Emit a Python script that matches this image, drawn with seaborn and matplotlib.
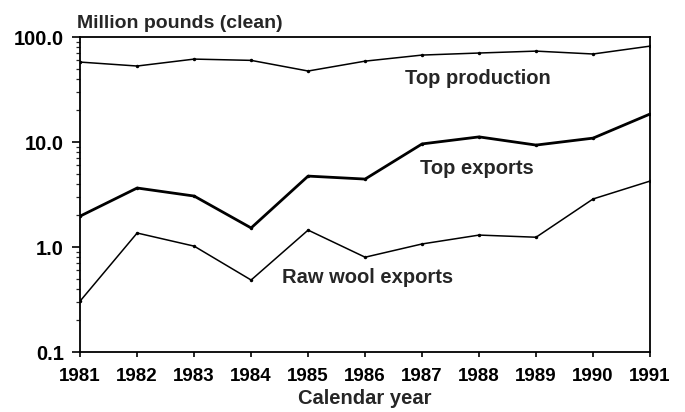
import pandas as pd
import numpy as np
import matplotlib
matplotlib.use("Agg")
import matplotlib.pyplot as plt
import matplotlib.ticker as mticker
import seaborn as sns

# Data
years = [1981, 1982, 1983, 1984, 1985, 1986, 1987, 1988, 1989, 1990, 1991]
top_production = [57.8, 53.0, 61.7, 60.0, 47.5, 59.0, 67.4, 70.5, 73.5, 69.0, 82.0]
top_exports = [1.97, 3.65, 3.06, 1.52, 4.74, 4.44, 9.6, 11.2, 9.36, 10.9, 18.5]
raw_wool_exports = [0.306, 1.36, 1.02, 0.485, 1.45, 0.80, 1.07, 1.30, 1.24, 2.87, 4.25]

sns.set_style("ticks")
plt.rcParams["font.family"] = ["Liberation Sans", "DejaVu Sans"]
plt.rcParams["font.weight"] = "bold"

fig = plt.figure(figsize=(6.85, 4.12), dpi=100)
ax = fig.add_axes([0.117, 0.1456, 0.832, 0.7644])

series = [
    (top_production, 1.1),
    (top_exports, 2.0),
    (raw_wool_exports, 1.1),
]
for vals, lw in series:
    sns.lineplot(x=years, y=vals, ax=ax, color="black", linewidth=lw,
                 marker="o", markersize=2.5, markeredgewidth=0)

ax.set_yscale("log")
ax.set_ylim(0.1, 100)
ax.set_xlim(1981, 1991)
ax.set_xticks(years)
ax.set_xticklabels([str(y) for y in years])
ax.yaxis.set_major_locator(mticker.FixedLocator([0.1, 1, 10, 100]))
ax.yaxis.set_major_formatter(mticker.FixedFormatter(["0.1", "1.0", "10.0", "100.0"]))
ax.yaxis.set_minor_locator(mticker.LogLocator(base=10, subs=np.arange(2, 10)))
ax.yaxis.set_minor_formatter(mticker.NullFormatter())

for s in ax.spines.values():
    s.set_visible(True)
    s.set_linewidth(1.3)
    s.set_color("black")
ax.tick_params(axis="x", which="major", labelsize=13.5, length=3.6, width=1.2,
               colors="black", pad=8)
ax.tick_params(axis="y", which="major", labelsize=14.5, length=5.8, width=1.2,
               colors="black", pad=6)
ax.tick_params(axis="y", which="minor", length=2.9, width=0.9)

ax.set_xlabel("Calendar year", fontsize=14.5, fontweight="bold", labelpad=3)
ax.set_ylabel("")
fig.text(0.113, 1 - 28 / 412, "Million pounds (clean)", fontsize=14, fontweight="bold",
         ha="left", va="baseline")

ax.text(1987.98, 40, "Top production", fontsize=14.5, fontweight="bold", ha="center", va="center")
ax.text(1987.96, 5.6, "Top exports", fontsize=14.5, fontweight="bold", ha="center", va="center")
ax.text(1986.04, 0.51, "Raw wool exports", fontsize=14.5, fontweight="bold", ha="center", va="center")

fig.savefig("out.png", dpi=100)
